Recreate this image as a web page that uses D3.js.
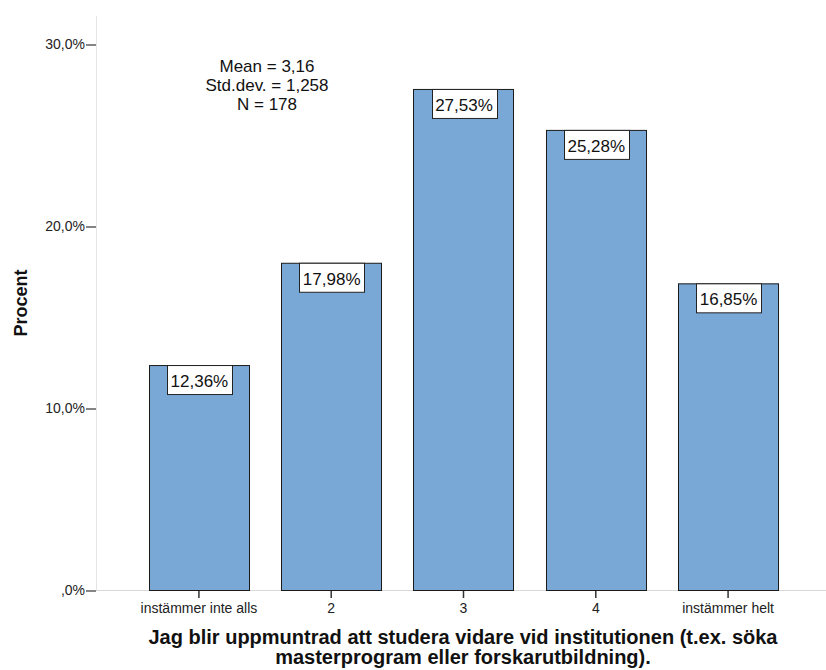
<!DOCTYPE html>
<html><head><meta charset="utf-8">
<script src="https://cdn.jsdelivr.net/npm/d3@7"></script>
<style>body{margin:0;background:#fff}svg{display:block}text{font-family:Arial,"Liberation Sans",sans-serif}</style>
</head><body><svg id="c" width="826" height="670"></svg>
<script>
const categories = ["instämmer inte alls","2","3","4","instämmer helt"];
const values = [12.36, 17.98, 27.53, 25.28, 16.85];
const yTicks = [0, 10, 20, 30];
const statLines = ["Mean = 3,16","Std.dev. = 1,258","N = 178"];
const yTitle = "Procent";
const xTitle = ["Jag blir uppmuntrad att studera vidare vid institutionen (t.ex. söka","masterprogram eller forskarutbildning)."];

const svg = d3.select("#c");
const left = 96, bottom = 590;
const FF = "Arial, 'Liberation Sans', sans-serif";
const fmt = v => { const s = d3.format(".1f")(v).split("."); return (v===0 ? "" : s[0]) + "," + s[1] + "%"; };
const y = d3.scaleLinear().domain([0,30]).range([bottom,44]);
const x = d3.scaleBand().domain(categories).range([96,831]).paddingInner(0.244).paddingOuter(0.4);

// frame lines
svg.append("line").attr("x1",left+0.5).attr("x2",left+0.5).attr("y1",16).attr("y2",bottom).attr("stroke","#e4e4e4");
svg.append("line").attr("x1",left).attr("x2",826).attr("y1",bottom+0.5).attr("y2",bottom+0.5).attr("stroke","#d8d8d8");

// y axis
const ya = svg.append("g").attr("transform",`translate(${left},0)`)
  .call(d3.axisLeft(y).tickValues(yTicks).tickSize(10).tickPadding(1).tickFormat(fmt));
ya.select(".domain").remove();
ya.selectAll("line").attr("stroke","#333").attr("stroke-width",1.2).attr("transform","translate(0,0.5)");
ya.selectAll("text").attr("font-size",14).attr("fill","#222").attr("font-family",FF);

// bars
svg.append("g").selectAll("rect").data(values).join("rect")
  .attr("x",(d,i)=>Math.round(x(categories[i]))+0.5).attr("y",d=>y(d)+0.5)
  .attr("width",x.bandwidth()).attr("height",d=>bottom-y(d))
  .attr("fill","#79a8d7").attr("stroke","#1a1a1a").attr("stroke-width",1);

// x axis
const xa = svg.append("g").attr("transform",`translate(0,${bottom+1})`)
  .call(d3.axisBottom(x).tickSize(7).tickPadding(5));
xa.select(".domain").remove();
xa.selectAll("line").attr("stroke","#333").attr("stroke-width",1.5);
xa.selectAll("text").attr("font-size",14).attr("fill","#222").attr("font-family",FF);

// value labels
const lg = svg.append("g");
values.forEach((v,i)=>{
  const cx = x(categories[i]) + x.bandwidth()/2 + 0.5;
  const t = lg.append("text").attr("x",cx).attr("y",y(v)+22).attr("text-anchor","middle")
    .attr("font-size",17).attr("fill","#111").text(d3.format(".2f")(v).replace(".",",")+"%");
  const w = t.node().getComputedTextLength()+7;
  lg.insert("rect","text").attr("x",Math.round(cx-w/2)+0.5).attr("y",y(v)+0.5).attr("width",Math.round(w)).attr("height",29)
    .attr("fill","#fff").attr("stroke","#222");
});

// stats
svg.append("g").selectAll("text").data(statLines).join("text")
  .attr("x",267).attr("y",(d,i)=>72+i*19).attr("text-anchor","middle").attr("font-size",17).attr("fill","#111").text(d=>d);

// titles
svg.append("text").attr("transform","translate(27,303) rotate(-90)").attr("text-anchor","middle")
  .attr("font-size",18).attr("font-weight","bold").attr("fill","#111").text(yTitle);
svg.append("g").selectAll("text").data(xTitle).join("text")
  .attr("x",463).attr("y",(d,i)=>644+i*20).attr("text-anchor","middle")
  .attr("font-size",20).attr("font-weight","bold").attr("fill","#111").text(d=>d);
</script></body></html>
